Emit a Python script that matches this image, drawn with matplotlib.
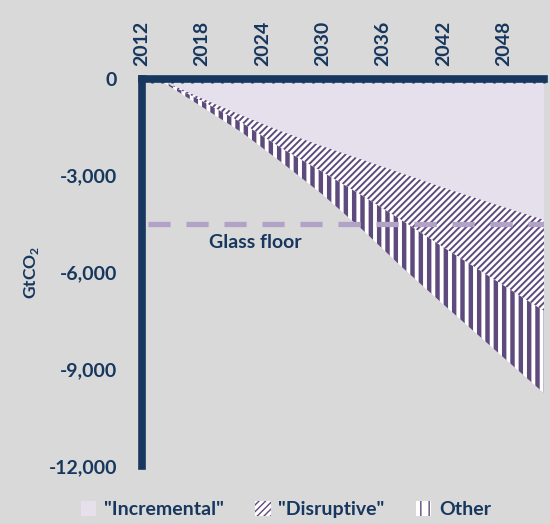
import numpy as np
import matplotlib.pyplot as plt
from matplotlib.patches import Patch

plt.rcParams['font.family'] = ['Lato', 'DejaVu Sans']
plt.rcParams['mathtext.fontset'] = 'custom'
plt.rcParams['mathtext.bf'] = 'Lato:bold'
plt.rcParams['hatch.color'] = '#5f4a7d'

# values (GtCO2, each layer below the previous one)
years = [2012, 2014, 2018, 2022, 2026, 2030, 2034, 2038, 2042, 2046, 2052]
incremental = [0, -60, -620, -1150, -1650, -2100, -2520, -2950, -3380, -3780, -4380]
disruptive = [0, -10, -80, -230, -530, -800, -1120, -1470, -1850, -2240, -2820]
other = [0, -20, -180, -300, -440, -700, -1060, -1460, -1770, -2080, -2550]
glass_floor = -4500

year_ticks = [2012, 2018, 2024, 2030, 2036, 2042, 2048]
value_ticks = [0, -3000, -6000, -9000, -12000]

navy = '#17375e'
purple = '#5f4a7d'
lavender = '#e5e0ec'
grey = '#d9d9d9'
W = 'bold'
FS = 14

fig = plt.figure(figsize=(5.5, 5.24), dpi=100, facecolor=grey)
ax = fig.add_axes([0.258, 0.111, 0.731, 0.739], facecolor=grey)

top1 = np.zeros(len(years))
bot1 = top1 + np.array(incremental)
bot2 = bot1 + np.array(disruptive)
bot3 = bot2 + np.array(other)

ax.fill_between(years, top1, bot1, facecolor=lavender, linewidth=0)
with plt.rc_context({'hatch.linewidth': 1.4}):
    f2 = ax.fill_between(years, bot1, bot2, facecolor='white', hatch='/////',
                         edgecolor=purple, linewidth=0)
with plt.rc_context({'hatch.linewidth': 3.2}):
    f3 = ax.fill_between(years, bot2, bot3, facecolor='white', hatch='||',
                         edgecolor=purple, linewidth=0)
if hasattr(f2, 'set_hatch_linewidth'):
    f2.set_hatch_linewidth(1.4)
    f3.set_hatch_linewidth(3.2)

ax.plot([2012.6, 2052], [glass_floor, glass_floor], color='#b3a2c7', lw=3.8,
        dashes=(4.2, 3.0))
ax.text(2023.3, glass_floor - 580, 'Glass floor', color=navy, fontsize=FS,
        fontweight=W, ha='center', va='center')

ax.set_xlim(2012, 2052)
ax.set_ylim(-12000, 0)
ax.xaxis.tick_top()
ax.set_xticks(year_ticks)
ax.set_xticks(range(2012, 2053), minor=True)
ax.set_xticklabels([str(y) for y in year_ticks], rotation=90)
ax.set_yticks(value_ticks)
ax.set_yticklabels([f'{v:,}' for v in value_ticks])

ax.tick_params(axis='x', which='both', direction='in', length=3, width=1.8,
               color=navy, pad=9, labelsize=FS, labelcolor=navy)
ax.tick_params(axis='y', length=0, pad=18, labelsize=FS, labelcolor=navy)
for lab in ax.get_xticklabels() + ax.get_yticklabels():
    lab.set_fontweight(W)

for s in ['bottom', 'right']:
    ax.spines[s].set_visible(False)
for s in ['top', 'left']:
    ax.spines[s].set_color(navy)
    ax.spines[s].set_linewidth(5.5)
    ax.spines[s].set_capstyle('projecting')

ax.set_ylabel('GtCO$_\\mathbf{2}$', fontsize=12.5, fontweight=W, color=navy,
              labelpad=5)

handles = [Patch(facecolor=lavender, linewidth=0),
           Patch(facecolor='white', hatch='/////', edgecolor=purple, linewidth=0),
           Patch(facecolor='white', hatch='||', edgecolor=purple, linewidth=0)]
fig.legend(handles, ['"Incremental"', '"Disruptive"', 'Other'], loc='center',
           bbox_to_anchor=(0.52, 0.027), ncol=3, frameon=False,
           handlelength=0.8, handleheight=0.8, handletextpad=0.4,
           columnspacing=1.6, prop={'weight': W, 'size': FS},
           labelcolor=navy)

fig.savefig('out.png', dpi=100, facecolor=grey)
